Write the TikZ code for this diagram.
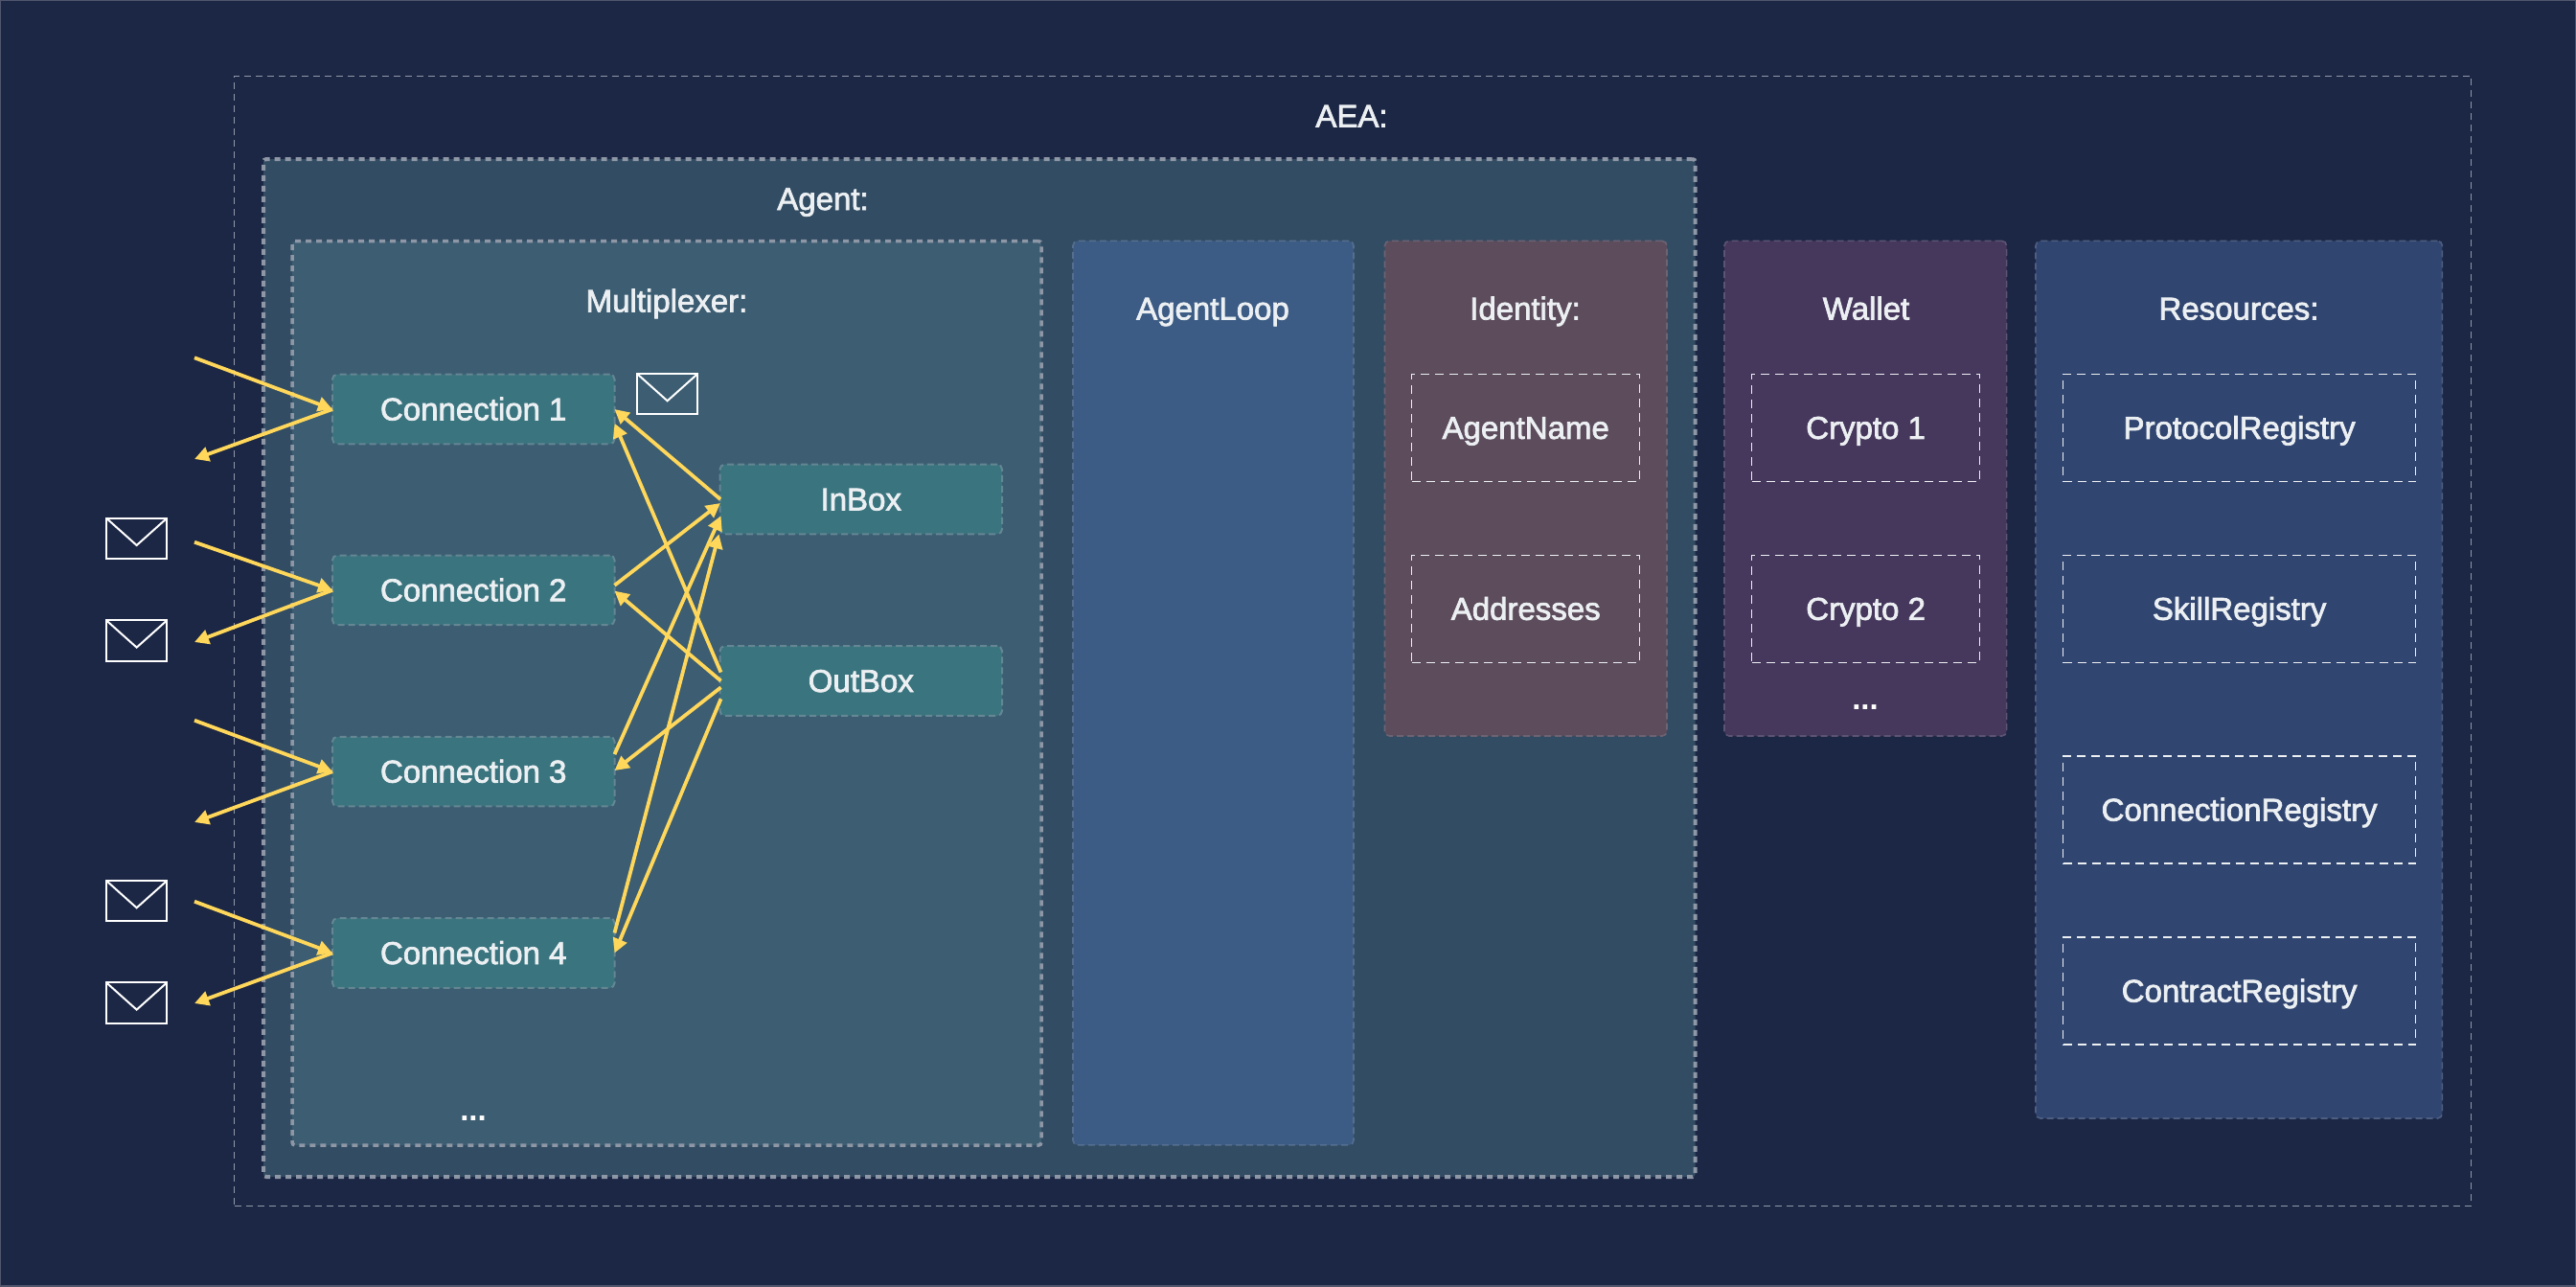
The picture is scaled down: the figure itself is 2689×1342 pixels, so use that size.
\documentclass[tikz,border=0pt]{standalone}
\usepackage{fontspec}
\setmainfont{Liberation Sans}[FakeBold=2.2]
\newfontfamily\dotfont{Liberation Sans Bold}
\usetikzlibrary{arrows.meta,calc}
\definecolor{bgc}{HTML}{1C2745}
\definecolor{agentc}{HTML}{324C63}
\definecolor{muxc}{HTML}{3C5D72}
\definecolor{connc}{HTML}{3A747E}
\definecolor{loopc}{HTML}{3C5C85}
\definecolor{idc}{HTML}{5C4C5C}
\definecolor{walletc}{HTML}{46375C}
\definecolor{resc}{HTML}{304570}
\definecolor{arrc}{HTML}{FFD75A}
\definecolor{txtc}{HTML}{ECF0F3}
\definecolor{thinc}{HTML}{9098A8}
\definecolor{thickc}{HTML}{8E97A5}
\definecolor{edgec}{HTML}{50566C}
\tikzset{
  lbl/.style={text=txtc,inner sep=0pt,outer sep=0pt,text height=23pt,text depth=0pt,font=\fontsize{33}{38}\selectfont},
  dotlbl/.style={text=white,inner sep=0pt,outer sep=0pt,font=\dotfont\fontsize{33}{38}\selectfont},
  boxbase/.style={inner sep=0pt,outer sep=0pt,anchor=north west},
  aeabox/.style={boxbase,draw=thinc,line width=1.4pt,dash pattern=on 7pt off 5pt},
  agentbox/.style={boxbase,draw=thickc,fill=agentc,line width=4pt,dash pattern=on 6pt off 5pt,rounded corners=3pt},
  muxbox/.style={boxbase,draw=thickc,fill=muxc,line width=3.5pt,dash pattern=on 6pt off 5pt,rounded corners=3pt},
  panel/.style={boxbase,draw=#1!70!thinc,fill=#1,line width=1.6pt,dash pattern=on 7pt off 4pt,rounded corners=5pt},
  inner/.style={lbl,anchor=north west,draw=txtc,line width=1.3pt,dash pattern=on 9pt off 6pt,minimum width=#1,minimum height=112pt},
  conn/.style={lbl,draw=connc!50!thinc,fill=connc,line width=2pt,dash pattern=on 7pt off 4pt,rounded corners=5pt,anchor=north west,minimum width=294.5pt,minimum height=72.6pt},
  flow/.style={draw=arrc,line width=3.8pt,-{Triangle[length=15pt,width=15pt]}},
  envbox/.style={inner sep=0pt,outer sep=0pt,anchor=north west,draw=white,line width=2pt,minimum width=63.3pt,minimum height=42.3pt},
  envflap/.style={draw=white,line width=2pt},
}
\newcommand{\mkenv}[3]{%
  \node[envbox] (#1) at (#2,#3) {};
  \draw[envflap] (#1.north west) -- ($(#1.south)+(0,-14)$) -- (#1.north east);
}
\begin{document}
\begin{tikzpicture}[x=1pt,y=-1pt]
\useasboundingbox (0,0) rectangle (2689,1342);
\fill[bgc] (0,0) rectangle (2689,1342);
\draw[edgec,line width=1.5pt] (0,0) rectangle (2689,1342);
% containers
\node[aeabox,minimum width=2335pt,minimum height=1179pt] (aea) at (244.5,79.3) {};
\node[agentbox,minimum width=1494.6pt,minimum height=1062pt] (agent) at (275,166) {};
\node[muxbox,minimum width=782pt,minimum height=943.5pt] (mux) at (305,251.6) {};
\node[panel=loopc,minimum width=293pt,minimum height=943.5pt] (loop) at (1120,251.4) {};
\node[panel=idc,minimum width=294.5pt,minimum height=516.6pt] (identity) at (1445.5,251.4) {};
\node[panel=walletc,minimum width=294.6pt,minimum height=516.6pt] (wallet) at (1800,251.4) {};
\node[panel=resc,minimum width=424.4pt,minimum height=915.6pt] (resources) at (2125,251.4) {};
% titles
\node[lbl] (taea) at (1411,121) {AEA:};
\node[lbl] (tagent) at (859,207.5) {Agent:};
\node[lbl] (tmux) at (696,314) {Multiplexer:};
\node[lbl] (tloop) at (1266,322) {AgentLoop};
\node[lbl] (tid) at (1592,322) {Identity:};
\node[lbl] (twal) at (1948,322) {Wallet};
\node[lbl] (tres) at (2337,322) {Resources:};
\node[dotlbl] (dots1) at (494,1167) {...};
\node[dotlbl] (dots2) at (1947,738) {...};
% inner boxes
\node[inner=238pt] (aname) at (1473.7,390.4) {AgentName};
\node[inner=238pt] (addr) at (1473.7,579.3) {Addresses};
\node[inner=238pt] (cr1) at (1828.6,390.4) {Crypto 1};
\node[inner=238pt] (cr2) at (1828.6,579.3) {Crypto 2};
\node[inner=368.2pt] (preg) at (2153.5,390.4) {ProtocolRegistry};
\node[inner=368.2pt] (sreg) at (2153.5,579.3) {SkillRegistry};
\node[inner=368.2pt] (creg) at (2153.5,789) {ConnectionRegistry};
\node[inner=368.2pt] (ctreg) at (2153.5,978) {ContractRegistry};
% connections
\node[conn] (c1) at (347,390.7) {Connection 1};
\node[conn] (c2) at (347,579.5) {Connection 2};
\node[conn] (c3) at (347,768.8) {Connection 3};
\node[conn] (c4) at (347,958.2) {Connection 4};
\node[conn] (inb) at (751.5,484.7) {InBox};
\node[conn] (outb) at (751.5,674.2) {OutBox};
% envelopes
\mkenv{e0}{665}{390}
\mkenv{e1}{111}{540.7}
\mkenv{e2}{111}{647.3}
\mkenv{e3}{111}{919}
\mkenv{e4}{111}{1025.3}
% free ends
\coordinate (i1) at (203,373.3);
\coordinate (o1) at (203,479);
\coordinate (i2) at (203,565.7);
\coordinate (o2) at (203,670);
\coordinate (i3) at (203,751.7);
\coordinate (o3) at (203,858);
\coordinate (i4) at (203,940.7);
\coordinate (o4) at (203,1047);
% external arrows
\draw[flow] (i1) -- (c1.west);
\draw[flow] (c1.west) -- (o1);
\draw[flow] (i2) -- (c2.west);
\draw[flow] (c2.west) -- (o2);
\draw[flow] (i3) -- (c3.west);
\draw[flow] (c3.west) -- (o3);
\draw[flow] (i4) -- (c4.west);
\draw[flow] (c4.west) -- (o4);
% internal arrows
\draw[flow] ($(inb.west)+(0.5,0)$) -- (c1.east);
\draw[flow] ($(outb.west)+(1,-9)$) -- ($(c1.east)+(0,14.7)$);
\draw[flow] ($(c2.east)+(0,-5)$) -- ($(inb.west)+(0.5,4)$);
\draw[flow] ($(outb.west)+(1,0)$) -- ($(c2.east)+(0,0.8)$);
\draw[flow] ($(c3.east)+(0,-18)$) -- ($(inb.west)+(1,17.3)$);
\draw[flow] ($(c4.east)+(0,-21)$) -- ($(inb.west)+(-1,36.3)$);
\draw[flow] ($(outb.west)+(1,6.8)$) -- ($(c3.east)+(0,-1)$);
\draw[flow] ($(outb.west)+(1,18.8)$) -- (c4.east);
\end{tikzpicture}
\end{document}
